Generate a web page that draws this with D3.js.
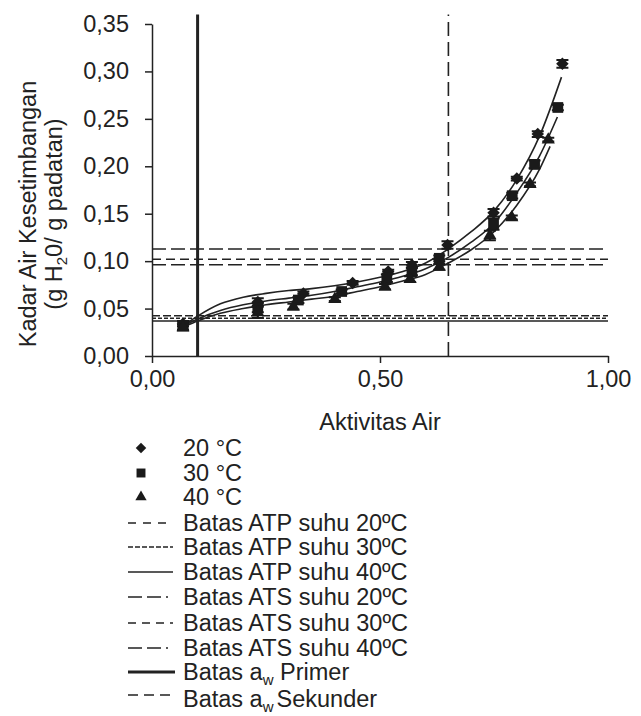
<!DOCTYPE html>
<html>
<head>
  <title>Isoterm Sorpsi</title>
  <script src="https://d3js.org/d3.v7.min.js"></script>
  <style>
    body { margin: 0; background: #fff; }
    text { font-family: "Liberation Sans", Arial, sans-serif; fill: #222; }
    .axis path, .axis line { stroke: #222; stroke-width: 1.5px; }
  </style>
</head>
<body>
  <script>
    var aw20 = [0.068, 0.232, 0.332, 0.440, 0.518, 0.570, 0.648, 0.749, 0.800, 0.846, 0.900];
    var ka20 = [0.034, 0.057, 0.066, 0.077, 0.089, 0.096, 0.117, 0.151, 0.187, 0.234, 0.308];
    var er20 = [0.003, 0.004, 0.002, 0.002, 0.002, 0.003, 0.004, 0.004, 0.002, 0.003, 0.004];

    var aw30 = [0.068, 0.232, 0.321, 0.416, 0.515, 0.570, 0.630, 0.749, 0.790, 0.839, 0.890];
    var ka30 = [0.032, 0.051, 0.059, 0.068, 0.082, 0.089, 0.103, 0.139, 0.169, 0.202, 0.262];
    var er30 = [0.004, 0.005, 0.003, 0.002, 0.004, 0.004, 0.003, 0.006, 0.003, 0.004, 0.003];

    var aw40 = [0.068, 0.232, 0.310, 0.401, 0.511, 0.566, 0.630, 0.741, 0.789, 0.829, 0.869];
    var ka40 = [0.030, 0.046, 0.052, 0.060, 0.073, 0.081, 0.094, 0.127, 0.146, 0.181, 0.228];
    var er40 = [0.003, 0.006, 0.003, 0.002, 0.003, 0.003, 0.003, 0.005, 0.002, 0.002, 0.002];

    // fitted curves, points
    var fitAw = [0.075, 0.10, 0.15, 0.20, 0.25, 0.30, 0.35, 0.40, 0.45, 0.50, 0.55, 0.60, 0.65, 0.70, 0.75, 0.80, 0.85];
    var fit20 = [0.034, 0.042, 0.055, 0.062, 0.066, 0.069, 0.071, 0.074, 0.078, 0.083, 0.089, 0.098, 0.113, 0.131, 0.153, 0.186, 0.232];
    var fit30 = [0.033, 0.039, 0.048, 0.054, 0.058, 0.061, 0.064, 0.068, 0.073, 0.078, 0.084, 0.092, 0.104, 0.120, 0.140, 0.172, 0.211];
    var fit40 = [0.032, 0.037, 0.045, 0.050, 0.054, 0.057, 0.060, 0.063, 0.068, 0.073, 0.079, 0.086, 0.098, 0.112, 0.131, 0.159, 0.197];
    var fitEndAw = [0.898, 0.889, 0.873];
    var fitEndKa = [0.294, 0.252, 0.221];

    // batas lines
    var atp = [0.0425, 0.0397, 0.0369];   // 20, 30, 40 C
    var ats = [0.1128, 0.1020, 0.0962];   // 20, 30, 40 C
    var awPrimer = 0.10;
    var awSekunder = 0.65;

    var yTicks = [0, 0.05, 0.10, 0.15, 0.20, 0.25, 0.30, 0.35];
    var xTicks = [0, 0.5, 1.0];

    var fs = "23.5px";
    var fmt = function(d) { return d3.format(".2f")(d).replace(".", ","); };

    var svg = d3.select("body").append("svg")
        .attr("width", 641)
        .attr("height", 716);

    var x = d3.scaleLinear().domain([0, 1]).range([152, 608]);
    var y = d3.scaleLinear().domain([0, 0.35]).range([356, 24]);

    // y axis
    svg.append("g")
        .attr("class", "axis")
        .attr("transform", "translate(152,0)")
        .call(d3.axisLeft(y).tickValues(yTicks).tickFormat(fmt).tickSize(7).tickSizeOuter(0).tickPadding(16))
        .call(g => g.selectAll("text").style("font-size", fs).attr("fill", "#222"));

    // x axis
    svg.append("g")
        .attr("class", "axis")
        .attr("transform", "translate(0,356)")
        .call(d3.axisBottom(x).tickValues(xTicks).tickFormat(fmt).tickSize(7).tickSizeOuter(0).tickPadding(7))
        .call(g => g.selectAll("text").style("font-size", fs).attr("fill", "#222"));

    svg.append("text")
        .attr("x", 380).attr("y", 430)
        .attr("text-anchor", "middle")
        .style("font-size", fs)
        .text("Aktivitas Air");

    var yl = svg.append("text")
        .attr("transform", "translate(0,214) rotate(-90)")
        .attr("text-anchor", "middle")
        .style("font-size", fs);
    yl.append("tspan").attr("x", 0).attr("y", 36).text("Kadar Air Kesetimbangan");
    var yl2 = yl.append("tspan").attr("x", 0).attr("y", 62);
    yl2.append("tspan").text("(g H");
    yl2.append("tspan").attr("dy", 5).style("font-size", "15px").text("2");
    yl2.append("tspan").attr("dy", -5).text("0/ g padatan)");

    // batas lines in plot
    var atpDash = ["8,3", "4,2", null];
    var atsDash = ["14,5", "9,5", "14,5"];
    atp.forEach(function(v, i) {
        svg.append("line")
            .attr("x1", x(0)).attr("x2", x(1))
            .attr("y1", y(v)).attr("y2", y(v))
            .attr("stroke", "#222").attr("stroke-width", 1.5)
            .attr("stroke-dasharray", atpDash[i]);
    });
    ats.forEach(function(v, i) {
        svg.append("line")
            .attr("x1", x(0)).attr("x2", x(1))
            .attr("y1", y(v)).attr("y2", y(v))
            .attr("stroke", "#222").attr("stroke-width", 1.6)
            .attr("stroke-dasharray", atsDash[i]);
    });
    svg.append("line")
        .attr("x1", x(awPrimer)).attr("x2", x(awPrimer))
        .attr("y1", y(0)).attr("y2", y(0.36))
        .attr("stroke", "#222").attr("stroke-width", 3);
    svg.append("line")
        .attr("x1", x(awSekunder)).attr("x2", x(awSekunder))
        .attr("y1", y(0)).attr("y2", y(0.36))
        .attr("stroke", "#222").attr("stroke-width", 1.6)
        .attr("stroke-dasharray", "14,6");

    // fitted curves
    var line = d3.line()
        .x(function(d) { return x(d[0]); })
        .y(function(d) { return y(d[1]); })
        .curve(d3.curveMonotoneX);
    [fit20, fit30, fit40].forEach(function(f, i) {
        var pts = fitAw.map(function(a, j) { return [a, f[j]]; });
        pts.push([fitEndAw[i], fitEndKa[i]]);
        svg.append("path")
            .attr("d", line(pts))
            .attr("fill", "none")
            .attr("stroke", "#222")
            .attr("stroke-width", 1.6);
    });

    // points with error bars
    var sym = [
        d3.symbol().type(d3.symbolSquare).size(78),
        d3.symbol().type(d3.symbolSquare).size(115),
        d3.symbol().type(d3.symbolTriangle).size(75)
    ];
    var rot = [45, 0, 0];
    var series = [[aw20, ka20, er20], [aw30, ka30, er30], [aw40, ka40, er40]];
    series.forEach(function(s, i) {
        var data = s[0].map(function(a, j) { return {a: a, k: s[1][j], e: s[2][j]}; });
        var g = svg.append("g");
        g.selectAll("path.err")
            .data(data).enter().append("path")
            .attr("class", "err")
            .attr("d", function(d) {
                var cx = x(d.a), t = y(d.k + d.e), b = y(d.k - d.e);
                return "M" + (cx - 6) + "," + t + "H" + (cx + 6) + "M" + cx + "," + t + "V" + b +
                       "M" + (cx - 6) + "," + b + "H" + (cx + 6);
            })
            .attr("stroke", "#1a1a1a").attr("stroke-width", 2).attr("fill", "none");
        g.selectAll("path.pt")
            .data(data).enter().append("path")
            .attr("class", "pt")
            .attr("d", sym[i])
            .attr("transform", function(d) { return "translate(" + x(d.a) + "," + y(d.k) + ") rotate(" + rot[i] + ")"; })
            .attr("fill", "#1a1a1a");
    });

    // legend
    var legendLabels = ["20 °C", "30 °C", "40 °C"];
    var legY = [448, 473, 497];
    legendLabels.forEach(function(l, i) {
        svg.append("path")
            .attr("d", d3.symbol().type(i == 2 ? d3.symbolTriangle : d3.symbolSquare).size(i == 0 ? 55 : (i == 1 ? 80 : 55)))
            .attr("transform", "translate(141," + legY[i] + ") rotate(" + rot[i] + ")")
            .attr("fill", "#1a1a1a");
        svg.append("text")
            .attr("x", 183).attr("y", legY[i] + 8)
            .style("font-size", fs)
            .text(l);
    });

    var lineLabels = ["Batas ATP suhu 20ºC", "Batas ATP suhu 30ºC", "Batas ATP suhu 40ºC",
                      "Batas ATS suhu 20ºC", "Batas ATS suhu 30ºC", "Batas ATS suhu 40ºC"];
    var lineY = [523, 547, 572, 597, 623, 648];
    var lineDash = ["8,7", "5,2", null, "14,5,14,5,2,40", "8,6", "14,5,14,5,2,40"];
    var lineW = [1.3, 1.3, 1.3, 1.5, 1.3, 1.5];
    lineLabels.forEach(function(l, i) {
        svg.append("line")
            .attr("x1", 128).attr("x2", i == 3 || i == 5 ? 179 : 173)
            .attr("y1", lineY[i]).attr("y2", lineY[i])
            .attr("stroke", "#222").attr("stroke-width", lineW[i])
            .attr("stroke-dasharray", lineDash[i]);
        svg.append("text")
            .attr("x", 183).attr("y", lineY[i] + 8)
            .style("font-size", fs)
            .text(l);
    });

    svg.append("line")
        .attr("x1", 128).attr("x2", 175)
        .attr("y1", 672).attr("y2", 672)
        .attr("stroke", "#222").attr("stroke-width", 3);
    svg.append("line")
        .attr("x1", 128).attr("x2", 173)
        .attr("y1", 695).attr("y2", 695)
        .attr("stroke", "#222").attr("stroke-width", 1.5)
        .attr("stroke-dasharray", "10,6");

    var awLabels = [["Batas a", "w", " Primer", 680, 0], ["Batas a", "w", "Sekunder", 707, 3]];
    awLabels.forEach(function(l) {
        var t = svg.append("text").attr("x", 183).attr("y", l[3]).style("font-size", fs);
        t.append("tspan").text(l[0]);
        t.append("tspan").attr("dy", 5).style("font-size", "15px").text(l[1]);
        t.append("tspan").attr("dy", -5).attr("dx", l[4]).text(l[2]);
    });
  </script>
</body>
</html>
